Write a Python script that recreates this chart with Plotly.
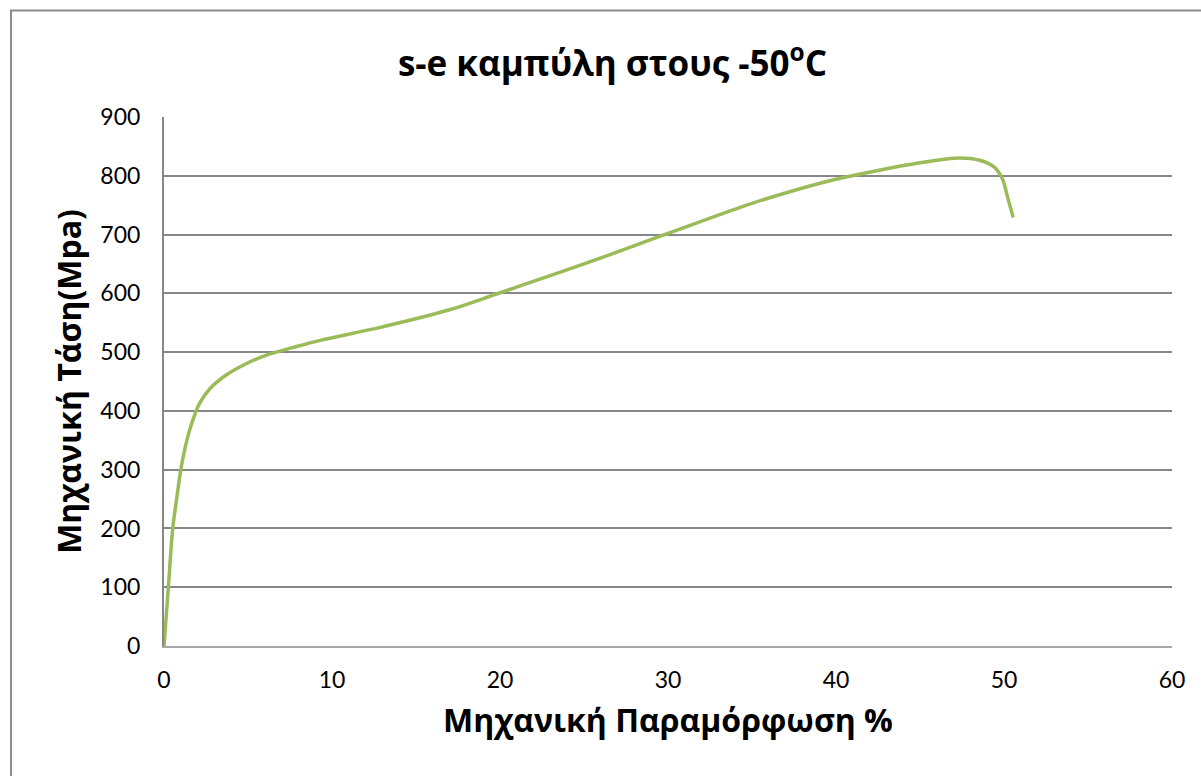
import plotly.graph_objects as go

# Engineering strain (%) and engineering stress (MPa) at -50 °C
strain = [0.0, 0.26, 0.52, 0.75, 1.0, 1.2, 1.5, 1.85, 2.1, 2.74, 3.7, 4.8,
          6.1, 7.7, 9.3, 13.0, 17.0, 20.0, 25.0, 30.0, 35.0, 37.5, 40.0,
          42.5, 45.0, 47.1, 48.6, 49.4, 49.9, 50.2, 50.55]
stress = [0, 100, 200, 250, 300, 330, 365, 395, 412, 438, 461, 479,
          495, 508, 520, 543, 572, 601, 650, 702, 753, 775, 794,
          809, 822, 830, 826, 815, 795, 765, 729]

title_text = "s-e καμπύλη στους -50<sup>o</sup>C"
x_title = "Μηχανική Παραμόρφωση %"
y_title = "Μηχανική Τάση(Mpa)"

fig = go.Figure()
fig.add_trace(go.Scatter(
    x=strain, y=stress, mode="lines",
    line=dict(color="#9BBB59", width=3.5, shape="spline", smoothing=1.0),
    showlegend=False, hoverinfo="x+y",
))

grid = "#878787"
fig.update_layout(
    width=1201, height=776,
    margin=dict(l=164, r=29, t=117, b=130),
    paper_bgcolor="white", plot_bgcolor="white",
    title=dict(text=title_text, x=0.51, xanchor="center", y=0.918, yanchor="middle",
               font=dict(family="Open Sans", size=35, color="black", weight="bold")),
    xaxis=dict(range=[0, 60], dtick=10, showgrid=False, zeroline=False,
               showline=True, linecolor="#a6a6a6", linewidth=2,
               ticks="", ticklabelstandoff=12,
               tickfont=dict(family="Lato", size=23, color="black"),
               title=dict(text=x_title, standoff=18,
                          font=dict(family="Open Sans", size=32, color="black", weight="bold"))),
    yaxis=dict(range=[0, 900], dtick=100, showgrid=True, gridcolor=grid, gridwidth=1.5,
               zeroline=False, showline=True, linecolor=grid, linewidth=2,
               ticks="", ticklabelstandoff=17,
               tickfont=dict(family="Lato", size=23, color="black"),
               title=dict(text=y_title, standoff=9,
                          font=dict(family="Open Sans", size=32, color="black", weight="bold"))),
    shapes=[dict(type="rect", xref="paper", yref="paper",
                 x0=(11 - 164) / 1008, x1=1.2, y0=-0.4, y1=(646 - 10.5) / 529,
                 line=dict(color="#8c8c8c", width=2), layer="below")],
)

fig.write_html("out.html")
